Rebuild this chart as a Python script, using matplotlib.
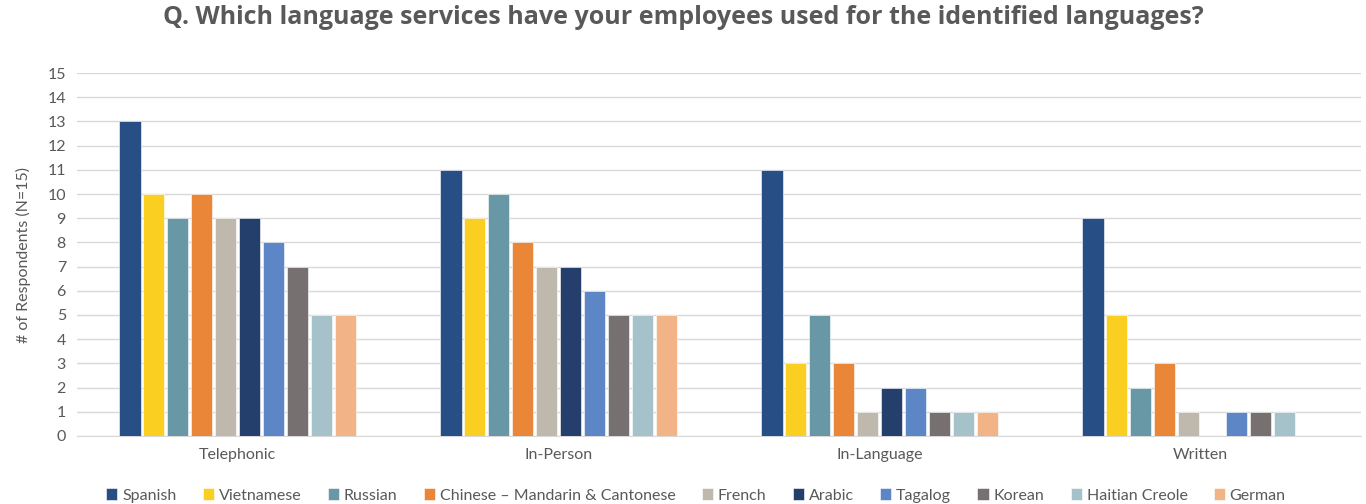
import matplotlib.pyplot as plt
import numpy as np

plt.rcParams['font.family'] = ['Lato', 'DejaVu Sans']

categories = ['Telephonic', 'In-Person', 'In-Language', 'Written']
languages = ['Spanish', 'Vietnamese', 'Russian', 'Chinese \u2013 Mandarin & Cantonese',
             'French', 'Arabic', 'Tagalog', 'Korean', 'Haitian Creole', 'German']
colors = ['#284F85', '#FACF22', '#6897A6', '#EA8638', '#BFB8AD',
          '#243F6B', '#5D86C6', '#767170', '#A5C2CB', '#F2B487']

spanish = [13, 11, 11, 9]
vietnamese = [10, 9, 3, 5]
russian = [9, 10, 5, 2]
chinese = [10, 8, 3, 3]
french = [9, 7, 1, 1]
arabic = [9, 7, 2, 0]
tagalog = [8, 6, 2, 1]
korean = [7, 5, 1, 1]
haitian = [5, 5, 1, 1]
german = [5, 5, 1, 0]
series = [spanish, vietnamese, russian, chinese, french, arabic, tagalog, korean, haitian, german]

fig = plt.figure(figsize=(13.66, 5.04), dpi=100)
ax = fig.add_axes([0.0564, 0.135, 0.94, 0.72])

x = np.arange(len(categories))
n = len(series)
step = 0.0745
w = 0.066
for i, (vals, c, name) in enumerate(zip(series, colors, languages)):
    ax.bar(x + (i - (n - 1) / 2) * step, vals, w, color=c, label=name,
           edgecolor='white', linewidth=0.4, zorder=3)

ax.set_xlim(-0.5, 3.5)
ax.set_ylim(0, 15)
ax.set_yticks(range(0, 16))
ax.set_xticks(x)
ax.set_xticklabels(categories)
ax.grid(axis='y', color='#D9D9D9', linewidth=1, zorder=0)
for s in ['top', 'right', 'left']:
    ax.spines[s].set_visible(False)
ax.spines['bottom'].set_color('#D9D9D9')
ax.tick_params(axis='both', length=0, labelsize=11.5, colors='#595959', pad=8)
ax.tick_params(axis='x', pad=9)
ax.set_ylabel('# of Respondents (N=15)', fontsize=11.5, color='#595959', labelpad=12)

fig.suptitle('Q. Which language services have your employees used for the identified languages?',
             fontsize=18, fontweight='bold', color='#595959', y=0.99,
             family=['Open Sans', 'DejaVu Sans'])

ax.legend(loc='upper center', bbox_to_anchor=(0.482, -0.105), ncol=10, frameon=False,
          fontsize=11.5, handlelength=0.7, handleheight=0.7, handletextpad=0.3,
          columnspacing=1.65, labelcolor='#595959')

fig.savefig('out.png', dpi=100)
